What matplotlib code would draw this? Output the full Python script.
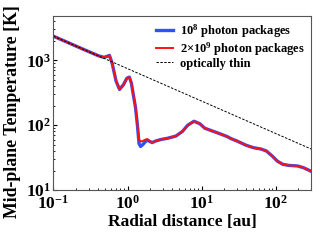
import matplotlib
matplotlib.use("Agg")
import matplotlib.pyplot as plt

plt.rcParams['font.family'] = ['Liberation Serif', 'DejaVu Serif']
plt.rcParams['font.weight'] = 'bold'
plt.rcParams['mathtext.fontset'] = 'custom'
plt.rcParams['mathtext.rm'] = 'Liberation Serif:bold'
plt.rcParams['mathtext.it'] = 'Liberation Serif:bold'
plt.rcParams['mathtext.bf'] = 'Liberation Serif:bold'

r = [0.1, 0.15, 0.2, 0.3, 0.4, 0.48, 0.53, 0.57, 0.62, 0.7, 0.78, 0.88, 0.98,
     1.06, 1.13, 1.2, 1.28, 1.36, 1.43, 1.5, 1.6, 1.75, 1.85, 2.0, 2.15, 2.4,
     2.8, 3.5, 4.5, 5.5, 6.5, 7.9, 9.5, 11, 13.3, 17, 22, 25, 30, 40, 50, 63,
     75, 91, 105, 124, 150, 199, 240, 300]
T_red = [2350, 1920, 1660, 1360, 1180, 1110, 1150, 1190, 900, 480, 355, 420, 530,
         550, 440, 290, 190, 100, 60, 56, 57, 60, 61, 57, 54, 57,
         60, 63, 68, 80, 100, 115, 105, 90, 83, 75, 67, 62, 57, 49, 45, 43,
         40, 33, 28, 25, 24, 23.5, 22, 19.5]
T_blue = [2350, 1920, 1660, 1360, 1180, 1110, 1150, 1190, 900, 480, 355, 420, 530,
          550, 440, 290, 190, 100, 52, 47, 50, 56, 59, 56, 54, 57,
          60, 63, 68, 80, 100, 115, 105, 90, 83, 75, 67, 62, 57, 49, 45, 43,
          40, 33, 28, 25, 24, 23.5, 22, 19.5]
r_thin = [0.1, 300]
T_thin = [2350, 43]

fig = plt.figure(figsize=(3.2, 2.4), dpi=100)
ax = fig.add_axes([0.167, 0.208, 0.805, 0.725])
ax.plot(r, T_blue, color='#3050ff', lw=2.4, label=r'10$^8$ photon packages')
ax.plot(r, T_red, color='#ff1010', lw=1.4, label=r'2×10$^9$ photon packages')
ax.plot(r_thin, T_thin, color='black', ls='--', lw=0.7, dashes=(2.5, 1.5), label='optically thin')
ax.set_xscale('log')
ax.set_yscale('log')
ax.set_xlim(0.1, 300)
ax.set_ylim(10, 4800)
ax.set_xlabel('Radial distance [au]', fontsize=12.5, fontweight='bold', labelpad=1)
ax.set_ylabel('Mid-plane Temperature [K]', fontsize=12.8, fontweight='bold', labelpad=1)
ax.yaxis.set_label_coords(-0.125, 0.45)
ax.tick_params(which='both', direction='in', labelsize=12.5)
ax.tick_params(which='major', length=3, pad=2)
ax.tick_params(axis='x', which='major', pad=3.5)
ax.tick_params(which='minor', length=1.5)
for s in ax.spines.values():
    s.set_color('#555555')
ax.legend(loc='upper right', frameon=False, fontsize=9, handlelength=1.4,
          handletextpad=0.55, labelspacing=0.0, borderaxespad=0.2, borderpad=0.3)
fig.savefig('out.png', dpi=100)
